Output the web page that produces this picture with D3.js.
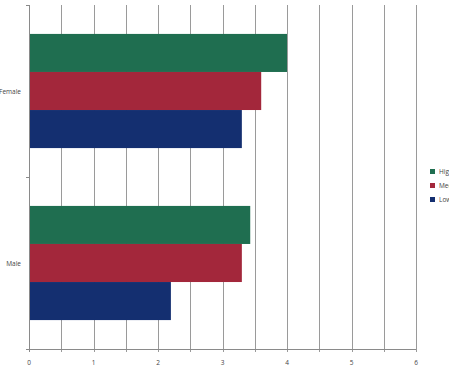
<!DOCTYPE html>
<html>
<head>
<meta charset="utf-8">
<script src="https://cdn.jsdelivr.net/npm/d3@7"></script>
<style>
body { margin: 0; background: #fff; }
text { font-family: "Open Sans", "DejaVu Sans", sans-serif; fill: #444; }
</style>
</head>
<body>
<script>
var categories = ['Female', 'Male'];
var series = ['High', 'Medium', 'Low'];
var colors = ['#1f6e50', '#a3273b', '#142f70'];
var values = {
    High:   [4.0, 3.43],
    Medium: [3.6, 3.3],
    Low:    [3.3, 2.2]
};
var xTicks = [0, 1, 2, 3, 4, 5, 6];

var width = 449, height = 369;
var plotLeft = 29, plotRight = 416, plotTop = 5, plotBottom = 349;

var svg = d3.select('body').append('svg')
    .attr('width', width)
    .attr('height', height);

var x = d3.scaleLinear().domain([0, 6]).range([plotLeft, plotRight]);
var y = d3.scaleBand().domain(categories).range([plotTop, plotBottom]).paddingInner(0).paddingOuter(0);
var inner = d3.scaleBand().domain(series).range([0, y.bandwidth()]).paddingOuter(0.76).paddingInner(0);

// gridlines every 0.5
var grid = d3.range(0.5, 6.01, 0.5);
svg.selectAll('line.grid')
    .data(grid)
    .enter()
    .append('line')
    .attr('x1', function (d) { return Math.round(x(d)) + 0.5; })
    .attr('x2', function (d) { return Math.round(x(d)) + 0.5; })
    .attr('y1', plotTop)
    .attr('y2', plotBottom + 3)
    .attr('stroke', '#9a9a9a')
    .attr('stroke-width', 1);

// bars
series.forEach(function (s, si) {
    svg.selectAll('rect.s' + si)
        .data(values[s])
        .enter()
        .append('rect')
        .attr('x', x(0))
        .attr('y', function (d, i) { return y(categories[i]) + inner(s); })
        .attr('width', function (d) { return x(d) - x(0); })
        .attr('height', inner.bandwidth())
        .attr('fill', colors[si]);
});

// axis lines
svg.append('line')
    .attr('x1', x(0) + 0.5).attr('x2', x(0) + 0.5)
    .attr('y1', plotTop).attr('y2', plotBottom + 3)
    .attr('stroke', '#8a8a8a');
svg.append('line')
    .attr('x1', x(0)).attr('x2', x(6))
    .attr('y1', plotBottom + 0.5).attr('y2', plotBottom + 0.5)
    .attr('stroke', '#8a8a8a');

// y ticks at band edges
svg.selectAll('line.ytick')
    .data([plotTop, y('Male'), plotBottom])
    .enter()
    .append('line')
    .attr('x1', x(0) - 3).attr('x2', x(0))
    .attr('y1', function (d) { return d + 0.5; })
    .attr('y2', function (d) { return d + 0.5; })
    .attr('stroke', '#8a8a8a');

// x tick labels
svg.selectAll('text.xl')
    .data(xTicks)
    .enter()
    .append('text')
    .attr('x', function (d) { return x(d); })
    .attr('y', 365)
    .attr('text-anchor', 'middle')
    .attr('font-size', 6.5)
    .text(function (d) { return d; });

// category labels
svg.selectAll('text.cat')
    .data(categories)
    .enter()
    .append('text')
    .attr('x', 21)
    .attr('y', function (d) { return y(d) + y.bandwidth() / 2 + 2.5; })
    .attr('text-anchor', 'end')
    .attr('font-size', 6.5)
    .text(function (d) { return d; });

// legend
var legend = svg.selectAll('g.leg')
    .data(series)
    .enter()
    .append('g')
    .attr('transform', function (d, i) { return 'translate(430,' + (169 + i * 14) + ')'; });
legend.append('rect')
    .attr('width', 5).attr('height', 5)
    .attr('fill', function (d, i) { return colors[i]; });
legend.append('text')
    .attr('x', 9).attr('y', 5)
    .attr('font-size', 6.5)
    .text(function (d) { return d; });
</script>
</body>
</html>
